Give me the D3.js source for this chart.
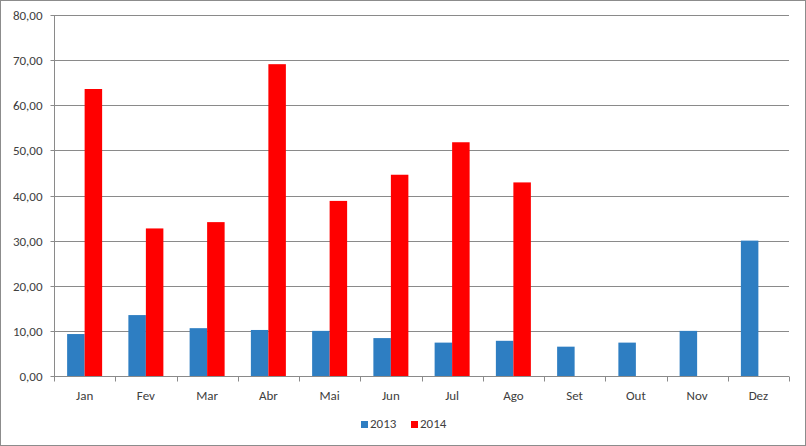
<!DOCTYPE html>
<html><head><meta charset="utf-8">
<script src="https://cdn.jsdelivr.net/npm/d3@7"></script>
<style>body{margin:0;background:#fff}svg{display:block}text{font-family:Carlito,Lato,"Open Sans",sans-serif;fill:#404040}</style>
</head><body>
<script>
const months = ["Jan","Fev","Mar","Abr","Mai","Jun","Jul","Ago","Set","Out","Nov","Dez"];
const series2013 = [9.3,13.5,10.6,10.2,10.0,8.4,7.4,7.8,6.5,7.4,10.0,30.0];
const series2014 = [63.6,32.7,34.1,69.1,38.8,44.6,51.8,42.9,null,null,null,null];
const seriesNames = ["2013","2014"];
const seriesColors = ["#2E7EC2","#FF0000"];
const yTicks = [0,10,20,30,40,50,60,70,80];

(function(){
const W=806,H=446;
const svg=d3.select("body").append("svg").attr("width",W).attr("height",H);
svg.append("rect").attr("x",0.5).attr("y",0.5).attr("width",W-1).attr("height",H-1).attr("fill","#fff").attr("stroke","#8c8c8c");

const pL=54,pR=789,pT=15,pB=376;
const x=d3.scaleBand().domain(months).range([pL,pR]);
const y=d3.scaleLinear().domain([0,80]).range([pB,pT]);
const bw=x.bandwidth()/3.5;
const fmt=v=>d3.format(".2f")(v).replace(".",",");

// gridlines
svg.append("g").selectAll("line").data(yTicks.filter(t=>t>0)).join("line")
  .attr("x1",pL).attr("x2",pR).attr("y1",d=>Math.round(y(d))+0.5).attr("y2",d=>Math.round(y(d))+0.5)
  .attr("stroke","#8a8a8a").attr("stroke-width",1);

// bars
const data=[series2013,series2014];
data.forEach((s,i)=>{
  svg.append("g").selectAll("rect").data(months.map((m,j)=>({m,v:s[j]})).filter(d=>d.v!=null)).join("rect")
    .attr("x",d=>x(d.m)+x.bandwidth()/2-bw+i*bw)
    .attr("width",bw)
    .attr("y",d=>y(d.v))
    .attr("height",d=>pB-y(d.v))
    .attr("fill",seriesColors[i]);
});

// y axis
const ya=d3.axisLeft(y).tickValues(yTicks).tickFormat(fmt).tickSize(4).tickPadding(8);
const gy=svg.append("g").attr("transform",`translate(${pL+0.5},0)`).call(ya);
gy.selectAll("line,path").attr("stroke","#8a8a8a");
gy.select(".domain").attr("d",`M0,${pT}V${pB}`);
gy.selectAll("text").style("font-size","13px").attr("fill","#404040");
gy.selectAll(".tick").attr("transform",d=>`translate(0,${Math.round(y(d))+0.5})`);

// x axis
const gx=svg.append("g").attr("transform",`translate(0,${pB+0.5})`);
gx.append("line").attr("x1",pL).attr("x2",pR).attr("stroke","#8a8a8a");
const bounds=months.map(m=>x(m)).concat([pR]);
gx.selectAll("line.t").data(bounds).join("line").attr("class","t")
  .attr("x1",d=>Math.round(d)+0.5).attr("x2",d=>Math.round(d)+0.5).attr("y1",0).attr("y2",5).attr("stroke","#8a8a8a");
gx.selectAll("text").data(months).join("text")
  .attr("x",d=>x(d)+x.bandwidth()/2).attr("y",23).attr("text-anchor","middle")
  .style("font-size","13px").text(d=>d);

// legend
const lg=svg.append("g");
const legX=[361,411];
seriesNames.forEach((n,i)=>{
  lg.append("rect").attr("x",legX[i]).attr("y",421).attr("width",7).attr("height",7).attr("fill",seriesColors[i]);
  lg.append("text").attr("x",legX[i]+9).attr("y",428).style("font-size","13px").text(n);
});
})();
</script>
</body></html>
